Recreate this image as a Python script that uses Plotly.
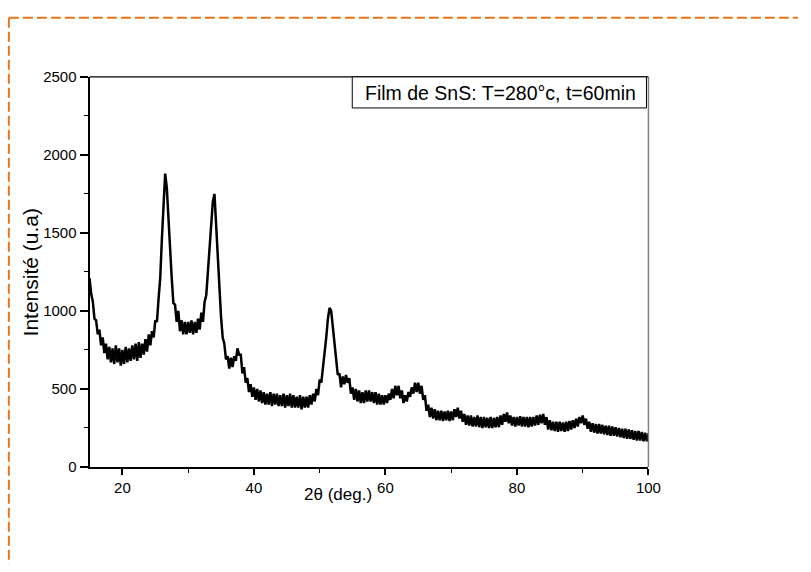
import numpy as np
import plotly.graph_objects as go

# 2-theta grid (deg), step 0.25
two_theta = np.arange(15.0, 100.0001, 0.25)

# Intensity (u.a), one value per grid step
intensity = [
    1210, 1110, 1060, 950, 940, 850, 880, 780, 830, 730,
    790, 690, 770, 670, 760, 660, 780, 670, 760, 650,
    750, 660, 770, 670, 760, 680, 780, 690, 790, 680,
    800, 700, 790, 720, 820, 740, 850, 780, 870, 830,
    940, 930, 1080, 1210, 1460, 1690, 1880, 1790, 1590, 1340,
    1210, 1050, 1040, 930, 1000, 870, 940, 850, 930, 850,
    930, 860, 940, 850, 930, 860, 950, 880, 990, 930,
    1060, 1100, 1260, 1390, 1590, 1700, 1750, 1550, 1320, 1110,
    960, 830, 790, 690, 710, 630, 700, 640, 710, 680,
    760, 720, 720, 600, 640, 540, 570, 480, 530, 450,
    510, 430, 500, 420, 490, 410, 480, 400, 470, 400,
    480, 390, 470, 400, 470, 390, 460, 390, 470, 380,
    460, 390, 470, 380, 460, 380, 450, 380, 460, 370,
    450, 380, 450, 380, 460, 400, 470, 420, 500, 460,
    560, 540, 640, 700, 830, 950, 1020, 1000, 890, 780,
    690, 590, 600, 510, 580, 530, 590, 540, 570, 470,
    510, 430, 500, 420, 490, 410, 480, 410, 490, 420,
    490, 420, 480, 410, 480, 400, 470, 400, 460, 400,
    460, 410, 470, 430, 500, 440, 520, 460, 520, 440,
    490, 410, 460, 420, 480, 450, 510, 470, 540, 480,
    540, 470, 520, 430, 460, 360, 400, 320, 380, 310,
    370, 300, 360, 300, 360, 295, 355, 300, 360, 295,
    355, 300, 370, 320, 380, 310, 360, 290, 340, 270,
    330, 265, 330, 260, 320, 260, 330, 255, 320, 250,
    320, 255, 315, 250, 320, 250, 315, 255, 320, 255,
    330, 270, 340, 290, 350, 280, 330, 265, 320, 260,
    320, 265, 325, 260, 320, 260, 320, 255, 320, 260,
    320, 265, 330, 270, 335, 280, 340, 270, 320, 240,
    300, 235, 290, 230, 290, 225, 290, 230, 285, 225,
    290, 230, 295, 240, 300, 250, 310, 260, 320, 280,
    330, 270, 310, 245, 290, 225, 280, 220, 275, 215,
    275, 215, 270, 210, 265, 205, 265, 200, 260, 200,
    255, 195, 250, 190, 245, 185, 245, 180, 240, 180,
    235, 175, 230, 170, 230, 170, 225, 165, 220, 165,
    215,
]

x_ticks = [20, 40, 60, 80, 100]
y_ticks = [0, 500, 1000, 1500, 2000, 2500]
legend_text = "Film de SnS: T=280°c, t=60min"

W, H = 811, 572
x0p, x1p = 91, 659
y0p, y1p = 70, 472


def px(x):
    return x / W


def py(y):
    return 1 - y / H


fig = go.Figure()
fig.add_trace(go.Scatter(
    x=two_theta, y=intensity, mode="lines",
    line=dict(color="black", width=2.5), showlegend=False,
))

font = "Liberation Sans, Arial, sans-serif"

fig.update_layout(
    width=W, height=H,
    margin=dict(l=0, r=0, t=0, b=0),
    paper_bgcolor="white", plot_bgcolor="white",
    font=dict(family=font, color="black", size=15),
    xaxis=dict(
        domain=[px(x0p), px(x1p)], range=[15, 100],
        tickvals=x_ticks, ticktext=[str(v) for v in x_ticks],
        ticks="outside", ticklen=6, tickwidth=1.5, tickcolor="black",
        minor=dict(dtick=10, tick0=10, ticks="outside", ticklen=4, tickcolor="black", tickwidth=1.3),
        showline=True, linecolor="black", linewidth=2,
        showgrid=False, zeroline=False,
        tickfont=dict(size=15),
    ),
    yaxis=dict(
        domain=[py(y1p), py(y0p)], range=[0, 2500],
        tickvals=y_ticks, ticktext=[str(v) for v in y_ticks],
        ticks="outside", ticklen=8, tickwidth=1.5, tickcolor="black",
        minor=dict(dtick=250, tick0=0, ticks="outside", ticklen=4, tickcolor="black", tickwidth=1.3),
        showline=True, linecolor="black", linewidth=2,
        showgrid=False, zeroline=False,
        tickfont=dict(size=15),
    ),
)

shapes = [
    # top frame line
    dict(type="line", xref="paper", yref="paper", x0=px(x0p), x1=px(x1p), y0=py(y0p), y1=py(y0p),
         line=dict(color="black", width=1.3)),
    # right frame line
    dict(type="line", xref="paper", yref="paper", x0=px(x1p), x1=px(x1p), y0=py(y0p), y1=py(y1p),
         line=dict(color="#808080", width=1.5)),
    # legend box
    dict(type="rect", xref="paper", yref="paper", x0=px(358), x1=px(657), y0=py(102), y1=py(70),
         line=dict(color="black", width=1), fillcolor="white"),
    # orange dashed border (top and left)
    dict(type="line", xref="paper", yref="paper", x0=px(9), x1=1.0, y0=py(9), y1=py(9),
         line=dict(color="#E8761E", width=2, dash="10px,4px")),
    dict(type="line", xref="paper", yref="paper", x0=px(9), x1=px(9), y0=py(9), y1=0,
         line=dict(color="#E8761E", width=2, dash="10px,4px")),
]
fig.update_layout(shapes=shapes)

fig.add_annotation(xref="paper", yref="paper", x=px(509), y=py(87), text=legend_text,
                   showarrow=False, font=dict(size=19.5, family=font), xanchor="center", yanchor="middle")
fig.add_annotation(xref="paper", yref="paper", x=px(343), y=py(500), text="2θ (deg.)",
                   showarrow=False, font=dict(size=17, family=font), xanchor="center", yanchor="middle")
fig.add_annotation(xref="paper", yref="paper", x=px(31), y=py(272), text="Intensité (u.a)",
                   showarrow=False, textangle=-90, font=dict(size=21, family=font),
                   xanchor="center", yanchor="middle")

fig.write_html("out.html", post_script="document.body.style.margin='0';")
